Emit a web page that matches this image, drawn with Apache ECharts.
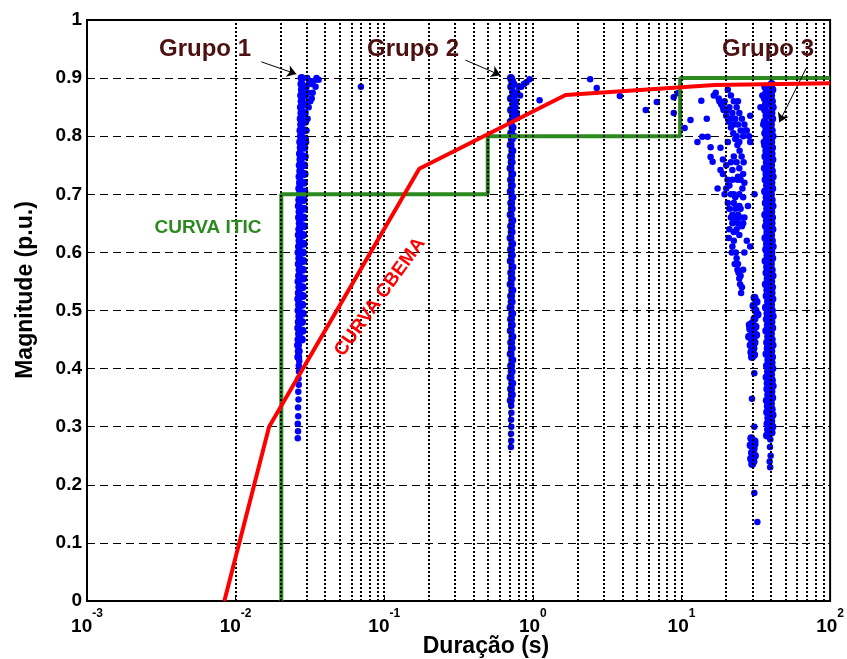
<!DOCTYPE html>
<html><head><meta charset="utf-8">
<script src="https://cdn.jsdelivr.net/npm/echarts@6/dist/echarts.min.js"></script>
<style>html,body{margin:0;padding:0;background:#fff}#c{width:847px;height:659px}</style>
</head><body><div id="c"></div>
<script>
// ---------- DATA ----------
const xMin = 0.001, xMax = 100;
const yTicks = [0, 0.1, 0.2, 0.3, 0.4, 0.5, 0.6, 0.7, 0.8, 0.9, 1];

// CBEMA curve (duration s, magnitude p.u.)
const cbema = [[0.0084, 0], [0.0168, 0.30], [0.172, 0.744], [1.66, 0.871], [16.7, 0.888], [100, 0.891]];
// ITIC curve
const itic = [[0.0203, 0], [0.0203, 0.70], [0.497, 0.70], [0.497, 0.80], [9.8, 0.80], [9.8, 0.90], [100, 0.90]];

// Grupo 1 events (dense column)
const grupo1Column = [
 [0.0264,0.42],[0.0266,0.43],[0.0263,0.44],[0.0265,0.45],[0.0267,0.46],[0.0264,0.47],[0.0266,0.48],[0.0268,0.49],[0.0265,0.50],[0.0267,0.51],[0.0264,0.52],[0.0266,0.53],[0.0268,0.54],[0.0265,0.55],[0.0267,0.56],[0.0269,0.57],[0.0266,0.58],[0.0268,0.59],[0.0265,0.60],[0.0267,0.61],[0.0269,0.62],[0.0266,0.63],[0.0268,0.64],[0.0270,0.65],[0.0267,0.66],[0.0269,0.67],[0.0266,0.68],[0.0268,0.69],[0.0270,0.70],[0.0268,0.71],[0.0271,0.72],[0.0269,0.73],[0.0272,0.74],[0.0270,0.75],[0.0273,0.76],[0.0271,0.77],[0.0274,0.78],[0.0272,0.79],[0.0275,0.80],[0.0273,0.81],[0.0276,0.82],[0.0274,0.83],[0.0277,0.84],[0.0275,0.85],[0.0278,0.86],[0.0276,0.87],[0.0279,0.88],[0.0277,0.89],[0.0278,0.90],
 [0.0279,0.45],[0.0282,0.465],[0.0280,0.48],[0.0283,0.495],[0.0281,0.51],[0.0284,0.525],[0.0282,0.54],[0.0285,0.555],[0.0283,0.57],[0.0286,0.585],[0.0284,0.60],[0.0287,0.615],[0.0285,0.63],[0.0288,0.645],[0.0286,0.66],[0.0289,0.675],[0.0287,0.69],[0.0290,0.705],[0.0288,0.72],[0.0291,0.735],[0.0289,0.75],[0.0292,0.765],[0.0290,0.78],[0.0293,0.795],[0.0291,0.81],[0.0294,0.825],[0.0292,0.84],[0.0295,0.855],[0.0293,0.87],[0.0296,0.885]
];
// Grupo 1 events (sparse tail and spread)
const grupo1Spread = [
 [0.0262,0.28],[0.0263,0.292],[0.0262,0.305],[0.0264,0.318],[0.0263,0.333],[0.0265,0.347],[0.0264,0.36],[0.0266,0.372],[0.0265,0.383],[0.0267,0.395],[0.0266,0.405],[0.0268,0.413],
 [0.0303,0.90],[0.0312,0.895],[0.0322,0.89],[0.0335,0.895],[0.0350,0.90],[0.0362,0.897],[0.0345,0.885],[0.0330,0.875],[0.0318,0.86],[0.0310,0.85],[0.0305,0.83],[0.0300,0.81],[0.0308,0.875],[0.0325,0.865],[0.0298,0.79],
 [0.0697,0.885]
];

// Grupo 2 events
const grupo2Column = [
 [0.710,0.345],[0.722,0.355],[0.713,0.365],[0.726,0.375],[0.708,0.385],[0.720,0.395],[0.714,0.405],[0.727,0.415],[0.709,0.425],[0.721,0.435],[0.715,0.445],[0.728,0.455],[0.710,0.465],[0.722,0.475],[0.713,0.485],[0.726,0.495],[0.708,0.505],[0.720,0.515],[0.714,0.525],[0.727,0.535],[0.709,0.545],[0.721,0.555],[0.715,0.565],[0.728,0.575],[0.710,0.585],[0.722,0.595],[0.713,0.605],[0.726,0.615],[0.708,0.625],[0.720,0.635],[0.714,0.645],[0.727,0.655],[0.709,0.665],[0.721,0.675],[0.715,0.685],[0.728,0.695],[0.710,0.705],[0.722,0.715],[0.713,0.725],[0.726,0.735],[0.708,0.745],[0.720,0.755],[0.714,0.765],[0.727,0.775],[0.709,0.785],[0.721,0.795],[0.715,0.805],[0.730,0.815],[0.710,0.825],[0.735,0.835],[0.713,0.845],[0.740,0.855],[0.712,0.865],[0.738,0.875],[0.715,0.885],[0.725,0.895],[0.712,0.90]
];
const grupo2Spread = [
 [0.712,0.265],[0.715,0.276],[0.713,0.288],[0.716,0.30],[0.714,0.312],[0.717,0.324],[0.715,0.336],
 [0.755,0.80],[0.762,0.83],[0.770,0.86],[0.785,0.875],[0.80,0.885],[0.835,0.885],[0.87,0.89],[0.905,0.893],[0.95,0.898],[0.78,0.84],[0.765,0.85],[0.82,0.87],[0.75,0.89],[0.752,0.87],
 [1.11,0.862],[2.43,0.898],[2.69,0.883],[3.85,0.869],[5.75,0.845],[6.82,0.859],[8.87,0.867],[8.87,0.840],[9.43,0.874]
];

// Grupo 3 events
const grupo3Column = [
 [37.6,0.285],[40.4,0.29],[38.2,0.295],[40.9,0.30],[37.9,0.305],[40.2,0.31],[38.4,0.315],[41.0,0.32],[37.7,0.325],[40.5,0.33],[38.1,0.335],[40.0,0.34],[37.5,0.345],[40.8,0.35],[38.3,0.355],[40.3,0.36],[37.8,0.365],[41.1,0.37],[38.0,0.375],[40.6,0.38],[37.4,0.385],[40.1,0.39],[38.2,0.395],[40.9,0.40],[37.6,0.405],[40.4,0.41],[38.4,0.415],[40.7,0.42],[37.3,0.425],[40.2,0.43],[38.0,0.435],[41.0,0.44],[37.7,0.445],[40.5,0.45],[38.3,0.455],[40.0,0.46],[37.2,0.465],[40.8,0.47],[38.1,0.475],[40.3,0.48],[37.5,0.485],[41.1,0.49],[37.9,0.495],[40.6,0.50],[37.0,0.505],[40.1,0.51],[38.2,0.515],[40.9,0.52],[37.4,0.525],[40.4,0.53],[37.8,0.535],[40.7,0.54],[36.9,0.545],[40.2,0.55],[38.0,0.555],[41.0,0.56],[37.3,0.565],[40.5,0.57],[37.7,0.575],[40.0,0.58],[36.8,0.585],[40.8,0.59],[37.9,0.595],[40.3,0.60],[37.1,0.605],[41.1,0.61],[37.6,0.615],[40.6,0.62],[36.7,0.625],[40.1,0.63],[37.8,0.635],[40.9,0.64],[37.0,0.645],[40.4,0.65],[37.5,0.655],[40.7,0.66],[36.6,0.665],[40.2,0.67],[37.7,0.675],[41.0,0.68],[36.9,0.685],[40.5,0.69],[37.4,0.695],[40.0,0.70],[36.5,0.705],[40.8,0.71],[37.6,0.715],[40.3,0.72],[36.8,0.725],[41.1,0.73],[37.3,0.735],[40.6,0.74],[36.4,0.745],[40.1,0.75],[37.5,0.755],[40.9,0.76],[36.7,0.765],[40.4,0.77],[37.2,0.775],[40.7,0.78],[36.5,0.785],[40.2,0.79],[37.4,0.795],[41.0,0.80],[36.6,0.805],[40.5,0.81],[37.1,0.815],[40.0,0.82],[36.3,0.825],[40.8,0.83],[37.3,0.835],[40.3,0.84],[36.5,0.845],[41.1,0.85],[37.0,0.855],[40.6,0.86],[36.4,0.865],[40.1,0.87],[37.2,0.875],[40.9,0.88],[36.6,0.885],[40.4,0.89],
 [31.0,0.522],[32.0,0.515],[30.5,0.508],[31.5,0.50],[32.5,0.493],[31.0,0.486],[30.0,0.478],[31.5,0.472],[29.0,0.468],[30.5,0.462],[28.5,0.455],[29.8,0.45],[31.0,0.445],[29.2,0.44],[30.5,0.435],[29.5,0.428],[30.8,0.424],[29.8,0.42],[28.8,0.475],[31.8,0.458],
 [29.5,0.28],[31.0,0.275],[29.2,0.268],[30.6,0.262],[29.8,0.255],[31.2,0.25],[29.4,0.245],[30.5,0.24],[29.9,0.236],[31.0,0.27]
];
const grupo3Spread = [
 [39.5,0.23],[39.2,0.24],[39.8,0.25],[39.4,0.265],[39.6,0.278],
 [34.0,0.85],[35.8,0.79],[35.0,0.87],[35.5,0.82],
 [30.9,0.392],[29.8,0.348],[30.9,0.30],[30.9,0.186],[32.4,0.136],
 [10.5,0.814],[11.5,0.828],[13.6,0.861],[14.8,0.83],[12.8,0.79],[13.8,0.799],[15.0,0.799],[15.7,0.781],[18.3,0.78],[15.7,0.764],[16.2,0.756],
 [17.0,0.875],[17.8,0.865],[18.5,0.855],[19.2,0.845],[20.0,0.835],[20.8,0.825],[21.5,0.815],[22.3,0.805],[23.0,0.795],[23.8,0.785],[24.6,0.775],[25.4,0.765],[26.2,0.755],
 [20.5,0.88],[21.5,0.87],[22.5,0.86],[23.5,0.85],[24.5,0.84],[25.5,0.83],[26.5,0.82],[27.5,0.81],[28.5,0.80],[29.0,0.79],
 [24,0.86],[29,0.835],[20.5,0.79],[27,0.81],
 [16.5,0.87],[18,0.86],[19,0.85],[19.5,0.86],[21,0.85],[22,0.84],[23,0.83],[24,0.82],[25,0.81],[26,0.80],[24.5,0.79],[23.5,0.80],[22.5,0.82],[21.5,0.83],[20.5,0.845],
 [18.3,0.742],[20.4,0.725],[22,0.742],[23.8,0.725],[25.7,0.71],[17.5,0.71],[19.5,0.70],[21,0.715],[23,0.695],[31,0.70],[28,0.68],[26,0.735],[19,0.735],[21.5,0.755],[24.5,0.745],
 [19,0.76],[20,0.75],[22.5,0.765],[23.5,0.755],[24,0.73],[25,0.725],[26.5,0.72],[22,0.725],[20,0.71],[21.5,0.70],[22.5,0.70],[24.5,0.70],[26,0.695],
 [23,0.675],[21,0.675],[25,0.66],[22,0.65],[26.5,0.66],[24,0.665],[20.5,0.685],[22.5,0.685],[24.5,0.68],[23.5,0.655],[21.5,0.66],[25.5,0.645],
 [22,0.665],[23,0.66],[24,0.65],[25,0.675],[23.5,0.64],[22.5,0.635],[24.5,0.63],[26,0.65],
 [21,0.64],[22.5,0.62],[23.2,0.60],[24,0.58],[25,0.56],[25.5,0.54],[29,0.61],[20.8,0.625],[21.8,0.60],[22.8,0.58],[24.5,0.555],[26,0.57],[22.0,0.61],[23.5,0.59],
 [23.8,0.57],[24.8,0.545],[25.2,0.53],[24.2,0.565],[26.5,0.60],[27.5,0.62]
];

// annotation arrows [start, end] in data units
const arrows = [
 [[0.0149, 0.928], [0.0256, 0.907]],
 [[0.352, 0.931], [0.604, 0.905]],
 [[69, 0.917], [45.5, 0.824]]
];

// ---------- CHART ----------
const FONT = '"Liberation Sans", Arial, sans-serif';
const minorGrid = [];
for (let e = -3; e < 2; e++) {
  for (let m = 1; m <= 9; m++) {
    const v = m * Math.pow(10, e);
    if (v > xMin * 1.0001 && v < xMax * 0.9999) minorGrid.push({ xAxis: v });
  }
}
const chart = echarts.init(document.getElementById('c'), null, { renderer: 'canvas' });
function pts(name, data, size) {
  return { name: name, type: 'scatter', data: data, symbol: 'circle', symbolSize: size,
    itemStyle: { color: '#0000FF', opacity: 1 }, z: 3, silent: true };
}
chart.setOption({
  animation: false,
  backgroundColor: '#fff',
  grid: { left: 87, right: 14, top: 20, bottom: 58, show: true, borderColor: '#000', borderWidth: 2, backgroundColor: '#fff' },
  xAxis: {
    type: 'log', logBase: 10, min: xMin, max: xMax, splitNumber: 5,
    axisLine: { show: true, lineStyle: { color: '#000', width: 2 } },
    axisTick: { show: true, inside: true, length: 5, lineStyle: { color: '#000' } },
    splitLine: { show: false },
    axisLabel: {
      margin: 7,
      formatter: function (v) { return '{b|10}{s|' + Math.round(Math.log10(v)) + '}'; },
      rich: {
        b: { fontFamily: FONT, fontWeight: 'bold', fontSize: 19, color: '#000', verticalAlign: 'bottom', lineHeight: 22 },
        s: { fontFamily: FONT, fontWeight: 'bold', fontSize: 12, color: '#000', verticalAlign: 'top', lineHeight: 28 }
      }
    }
  },
  yAxis: {
    type: 'value', min: 0, max: 1, interval: 0.1,
    axisLine: { show: true, lineStyle: { color: '#000', width: 2 } },
    axisTick: { show: true, inside: true, length: 5, lineStyle: { color: '#000' } },
    splitLine: { show: true, lineStyle: { color: '#000', width: 1, type: [8, 5] } },
    axisLabel: {
      margin: 5, fontFamily: FONT, fontWeight: 'bold', fontSize: 19, color: '#000',
      formatter: function (v) { const t = yTicks.find(k => Math.abs(k - v) < 1e-6); return String(t === undefined ? v : t); }
    }
  },
  series: [
    { type: 'line', data: [], silent: true, z: 1,
      markLine: { silent: true, symbol: ['none', 'none'], animation: false, label: { show: false },
        lineStyle: { color: '#000', width: 2, type: [2, 2] }, data: minorGrid } },
    pts('Grupo 1', grupo1Column, 8),
    pts('Grupo 1b', grupo1Spread, 6.5),
    pts('Grupo 2', grupo2Column, 8),
    pts('Grupo 2b', grupo2Spread, 6.5),
    pts('Grupo 3', grupo3Column, 8),
    pts('Grupo 3b', grupo3Spread, 6.5),
    { name: 'ITIC', type: 'line', data: itic, showSymbol: false, symbol: 'none', z: 4, silent: true,
      lineStyle: { color: '#2B8A1E', width: 4 } },
    { name: 'CBEMA', type: 'line', data: cbema, showSymbol: false, symbol: 'none', z: 5, silent: true,
      lineStyle: { color: '#FF0000', width: 4 } },
    { type: 'line', data: [], silent: true, z: 6,
      markLine: { silent: true, symbol: ['none', 'arrow'], symbolSize: 9, animation: false, label: { show: false },
        lineStyle: { color: '#000', width: 1, type: 'solid' },
        data: arrows.map(a => [{ coord: a[0] }, { coord: a[1] }]) } }
  ],
  graphic: [
    { type: 'text', x: 205, y: 49, z: 10, style: { text: 'Grupo 1', font: 'bold 24px ' + FONT, fill: '#4D1010', align: 'center', verticalAlign: 'middle' } },
    { type: 'text', x: 413, y: 49, z: 10, style: { text: 'Grupo 2', font: 'bold 24px ' + FONT, fill: '#4D1010', align: 'center', verticalAlign: 'middle' } },
    { type: 'text', x: 768, y: 49, z: 10, style: { text: 'Grupo 3', font: 'bold 24px ' + FONT, fill: '#4D1010', align: 'center', verticalAlign: 'middle' } },
    { type: 'text', x: 208, y: 228, z: 10, style: { text: 'CURVA ITIC', font: 'bold 19px ' + FONT, fill: '#2B8A1E', align: 'center', verticalAlign: 'middle' } },
    { type: 'text', x: 380, y: 297, rotation: 0.946, z: 10, style: { text: 'CURVA CBEMA', font: 'bold 19px ' + FONT, fill: '#FF0000', align: 'center', verticalAlign: 'middle' } },
    { type: 'text', x: 486, y: 647, z: 10, style: { text: 'Duração (s)', font: 'bold 23px ' + FONT, fill: '#000', align: 'center', verticalAlign: 'middle' } },
    { type: 'text', x: 26, y: 290, rotation: Math.PI / 2, z: 10, style: { text: 'Magnitude (p.u.)', font: 'bold 23px ' + FONT, fill: '#000', align: 'center', verticalAlign: 'middle' } }
  ]
});
</script>
</body></html>
